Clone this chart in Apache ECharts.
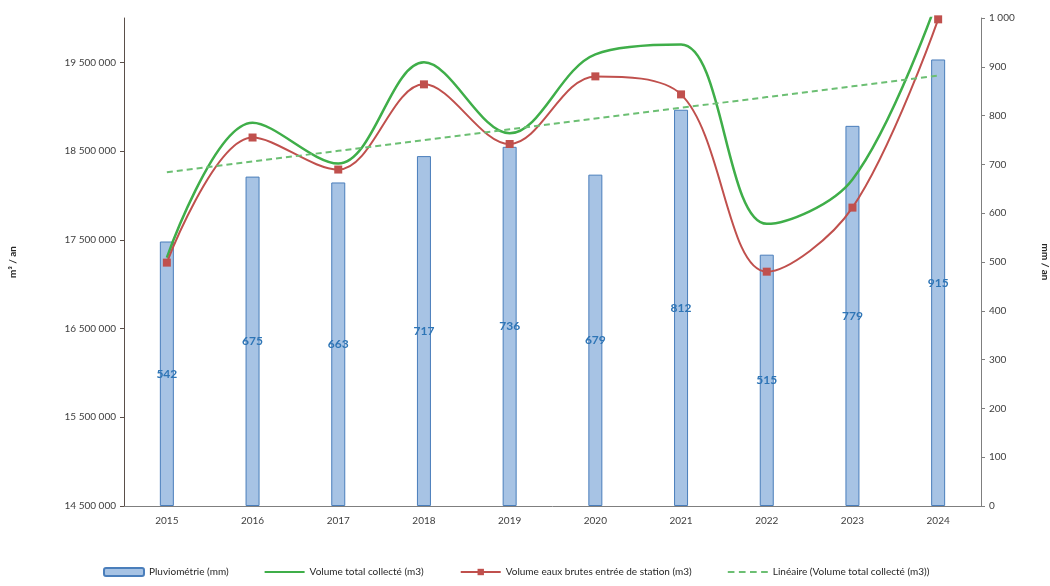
<!DOCTYPE html>
<html>
<head>
<meta charset="utf-8">
<script src="https://cdn.jsdelivr.net/npm/echarts@6/dist/echarts.min.js"></script>
<style>html,body{margin:0;padding:0;background:#fff}#c{width:1050px;height:586px}</style>
</head>
<body>
<div id="c"></div>
<script>
const years = ['2015','2016','2017','2018','2019','2020','2021','2022','2023','2024'];
const pluvio = [542, 675, 663, 717, 736, 679, 812, 515, 779, 915];
const volumeTotal = [17300000, 18820000, 18360000, 19500000, 18700000, 19590000, 19700000, 17680000, 18180000, 20230000];
const volumeBrut = [17243000, 18653000, 18292000, 19252000, 18580000, 19342000, 19139000, 17141000, 17863000, 19985000];
const leftTicks = [14500000, 15500000, 16500000, 17500000, 18500000, 19500000];

// linear trend (least squares) of volumeTotal
const n = volumeTotal.length;
const mx = (n - 1) / 2;
const my = volumeTotal.reduce((a, b) => a + b, 0) / n;
let sxy = 0, sxx = 0;
volumeTotal.forEach((v, i) => { sxy += (i - mx) * (v - my); sxx += (i - mx) * (i - mx); });
const slope = sxy / sxx;
const trend = volumeTotal.map((v, i) => my + slope * (i - mx));

function fmt(v) {
  return String(Math.round(v)).replace(/\B(?=(\d{3})+(?!\d))/g, ' ');
}

const font = 'Lato, "Open Sans", sans-serif';
const chart = echarts.init(document.getElementById('c'));
chart.setOption({
  animation: false,
  textStyle: { fontFamily: font },
  grid: { left: 124, right: 69, top: 18, bottom: 80, outerBoundsMode: 'none', containLabel: false },
  legend: {
    bottom: 4, left: 98, itemWidth: 40, itemHeight: 8, itemGap: 36,
    textStyle: { fontSize: 10, color: '#262626', fontFamily: font },
    data: [
      { name: 'Pluviométrie (mm)' },
      { name: 'Volume total collecté (m3)', icon: 'path://M0,4 L40,4 L40,6 L0,6 Z' },
      { name: 'Volume eaux brutes entrée de station (m3)' },
      { name: 'Linéaire (Volume total collecté (m3))', icon: 'path://M0,4 L6,4 L6,6 L0,6 Z M10,4 L16,4 L16,6 L10,6 Z M20,4 L26,4 L26,6 L20,6 Z M30,4 L36,4 L36,6 L30,6 Z' }
    ]
  },
  xAxis: {
    type: 'category', data: years,
    axisLine: { lineStyle: { color: '#7f7f7f' } },
    axisTick: { show: false },
    axisLabel: { color: '#404040', fontSize: 10, margin: 10 }
  },
  yAxis: [
    {
      type: 'value', min: 14500000, max: 20000000,
      name: 'm³ / an', nameLocation: 'middle', nameRotate: 90, nameGap: 106,
      nameTextStyle: { fontWeight: 'bold', fontSize: 10, color: '#262626' },
      axisLine: { show: true, lineStyle: { color: '#5a4f4a' } },
      axisTick: { show: true, customValues: leftTicks, length: 4, lineStyle: { color: '#5a4f4a' } },
      axisLabel: { customValues: leftTicks, formatter: fmt, color: '#404040', fontSize: 10, margin: 8 },
      splitLine: { show: false }
    },
    {
      type: 'value', min: 0, max: 1000, interval: 100, position: 'right',
      name: 'mm / an', nameLocation: 'middle', nameRotate: -90, nameGap: 59,
      nameTextStyle: { fontWeight: 'bold', fontSize: 10, color: '#262626' },
      axisLine: { show: true, lineStyle: { color: '#7f7f7f' } },
      axisTick: { show: true, length: 4, lineStyle: { color: '#7f7f7f' } },
      axisLabel: { formatter: fmt, color: '#404040', fontSize: 10, margin: 8 },
      splitLine: { show: false }
    }
  ],
  series: [
    {
      name: 'Pluviométrie (mm)', type: 'bar', yAxisIndex: 1, data: pluvio, barWidth: 14,
      itemStyle: { color: '#a7c3e4', borderColor: '#4a7ebb', borderWidth: 1 },
      label: { show: true, position: 'inside', color: '#2e75b6', fontWeight: 'bold', fontSize: 12 }
    },
    {
      name: 'Volume total collecté (m3)', type: 'line', yAxisIndex: 0, data: volumeTotal,
      smooth: 0.35, showSymbol: false, symbol: 'none',
      lineStyle: { color: '#3fae49', width: 2.5 }, itemStyle: { color: '#3fae49' }
    },
    {
      name: 'Volume eaux brutes entrée de station (m3)', type: 'line', yAxisIndex: 0, data: volumeBrut,
      smooth: 0.35, symbol: 'rect', symbolSize: 8,
      lineStyle: { color: '#c0504d', width: 2 }, itemStyle: { color: '#c0504d' }
    },
    {
      name: 'Linéaire (Volume total collecté (m3))', type: 'line', yAxisIndex: 0, data: trend,
      symbol: 'none',
      lineStyle: { color: '#6cbf73', width: 2, type: [6, 4] }, itemStyle: { color: '#6cbf73' }
    }
  ]
});
</script>
</body>
</html>
